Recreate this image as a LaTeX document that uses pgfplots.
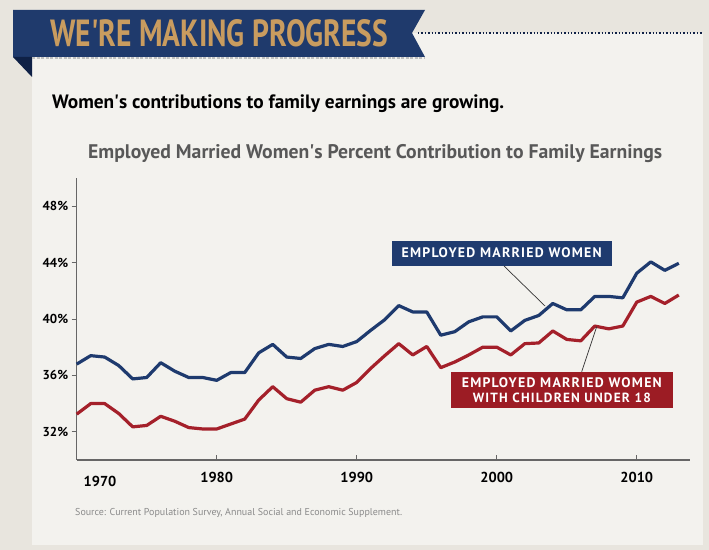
\documentclass[border=0pt]{standalone}
\usepackage{fontspec}
\setmainfont{PT Sans}
\newfontfamily\boxfont{PT Sans}[LetterSpace=9]
\usepackage{graphicx}
\usepackage{pgfplots}
\pgfplotsset{compat=1.18}
\definecolor{outerbg}{HTML}{E8E5DE}
\definecolor{cardbg}{HTML}{F3F2EE}
\definecolor{bannerblue}{HTML}{1F3A6C}
\definecolor{folddark}{HTML}{0F2146}
\definecolor{gold}{HTML}{C99C5F}
\definecolor{lineblue}{HTML}{1E3A6E}
\definecolor{linered}{HTML}{A4202A}
\definecolor{boxblue}{HTML}{1F3B6F}
\definecolor{boxred}{HTML}{9C1C24}
\definecolor{axisgrey}{HTML}{666666}
\definecolor{titlegrey}{HTML}{585858}
\definecolor{srcgrey}{HTML}{8A8A8A}

\pgfplotstableread{
year blue red
1970 36.8 33.25
1971 37.4 34.0
1972 37.3 34.0
1973 36.7 33.3
1974 35.75 32.35
1975 35.85 32.45
1976 36.9 33.1
1977 36.3 32.75
1978 35.85 32.3
1979 35.85 32.2
1980 35.65 32.2
1981 36.2 32.55
1982 36.2 32.9
1983 37.6 34.25
1984 38.2 35.2
1985 37.3 34.35
1986 37.2 34.1
1987 37.9 34.95
1988 38.2 35.2
1989 38.05 34.95
1990 38.4 35.5
1991 39.2 36.5
1992 39.95 37.4
1993 40.95 38.25
1994 40.5 37.45
1995 40.5 38.05
1996 38.85 36.55
1997 39.1 36.95
1998 39.8 37.45
1999 40.15 38.0
2000 40.15 38.0
2001 39.15 37.45
2002 39.9 38.25
2003 40.25 38.3
2004 41.1 39.15
2005 40.65 38.55
2006 40.65 38.45
2007 41.6 39.5
2008 41.6 39.3
2009 41.5 39.5
2010 43.25 41.2
2011 44.05 41.6
2012 43.45 41.1
2013 43.95 41.7
}\datatable

\begin{document}
\begin{tikzpicture}[x=1bp,y=1bp]
\fill[outerbg] (0,0) rectangle (709,550);
\fill[cardbg] (32,5) rectangle (703,517);
% banner
\fill[bannerblue] (13,540) -- (425,540) -- (412,517) -- (425,493) -- (13,493) -- cycle;
\fill[folddark] (13,493) -- (32,493) -- (32,473) -- cycle;
\draw[black!25, line width=1.2bp, dash pattern=on 3bp off 1.5bp] (32,492) -- (424,492);
\draw[folddark, line width=1.4bp, dash pattern=on 1.4bp off 2bp] (418,517) -- (702,517);
\node[anchor=south west, inner sep=0, text=gold] at (50,503)
  {\resizebox{338bp}{27bp}{\bfseries WE\textquotesingle RE MAKING PROGRESS}};
\node[anchor=base west, inner sep=0] at (52,441)
  {\resizebox{452bp}{!}{\fontsize{17}{20}\selectfont\bfseries Women\textquotesingle s contributions to family earnings are growing.}};
\node[anchor=base west, inner sep=0, text=titlegrey] at (88,391)
  {\resizebox{574bp}{!}{\fontsize{17}{20}\selectfont\bfseries Employed Married Women\textquotesingle s Percent Contribution to Family Earnings}};
\node[anchor=base west, inner sep=0, text=srcgrey] at (75,34)
  {\resizebox{327bp}{!}{\fontsize{9.5}{11}\selectfont Source: Current Population Survey, Annual Social and Economic Supplement.}};

\begin{axis}[
  at={(76.7bp,90bp)}, anchor=south west, scale only axis,
  width=613.3bp, height=282bp,
  xmin=1970, xmax=2013.8, ymin=30, ymax=50,
  axis x line*=bottom, axis y line*=left,
  axis line style={draw=axisgrey, line width=1.2bp, -},
  xtick={1980,1990,2000,2010}, xticklabels={1980,1990,2000,2010},
  ytick={32,36,40,44,48}, yticklabels={32\%,36\%,40\%,44\%,48\%},
  xtick align=inside, ytick align=outside,
  major tick length=5bp,
  tick style={draw=axisgrey, line width=0.9bp},
  x tick label style={font=\bfseries\fontsize{14.5}{16}\selectfont, yshift=-9bp},
  y tick label style={font=\bfseries\fontsize{13}{15}\selectfont},
  clip=false,
]
\addplot[color=lineblue, line width=3.2bp, line join=round, no markers] table[x=year, y=blue] {\datatable};
\addplot[color=linered, line width=3.2bp, line join=round, no markers] table[x=year, y=red] {\datatable};
\end{axis}

\node[font=\bfseries\fontsize{14.5}{16}\selectfont] at (100,69) {1970};

% leader lines
\draw[black!80, line width=0.7bp] (504,284) -- (545,244);
\draw[black!80, line width=0.7bp] (581.7,178.3) -- (596.7,223.3);
% label boxes
\fill[boxblue] (391.7,284) rectangle (611.7,309);
\node[text=white, inner sep=0] at (501.7,297.3)
  {\resizebox{200bp}{!}{\boxfont\fontsize{12}{14}\selectfont\bfseries EMPLOYED MARRIED WOMEN}};
\fill[boxred] (451,141.7) rectangle (672.7,178.3);
\node[text=white, inner sep=0] at (561.8,167.7)
  {\resizebox{200bp}{!}{\boxfont\fontsize{12}{14}\selectfont\bfseries EMPLOYED MARRIED WOMEN}};
\node[text=white, inner sep=0] at (561.8,151.7)
  {\resizebox{178bp}{!}{\boxfont\fontsize{12}{14}\selectfont\bfseries WITH CHILDREN UNDER 18}};
\end{tikzpicture}
\end{document}
